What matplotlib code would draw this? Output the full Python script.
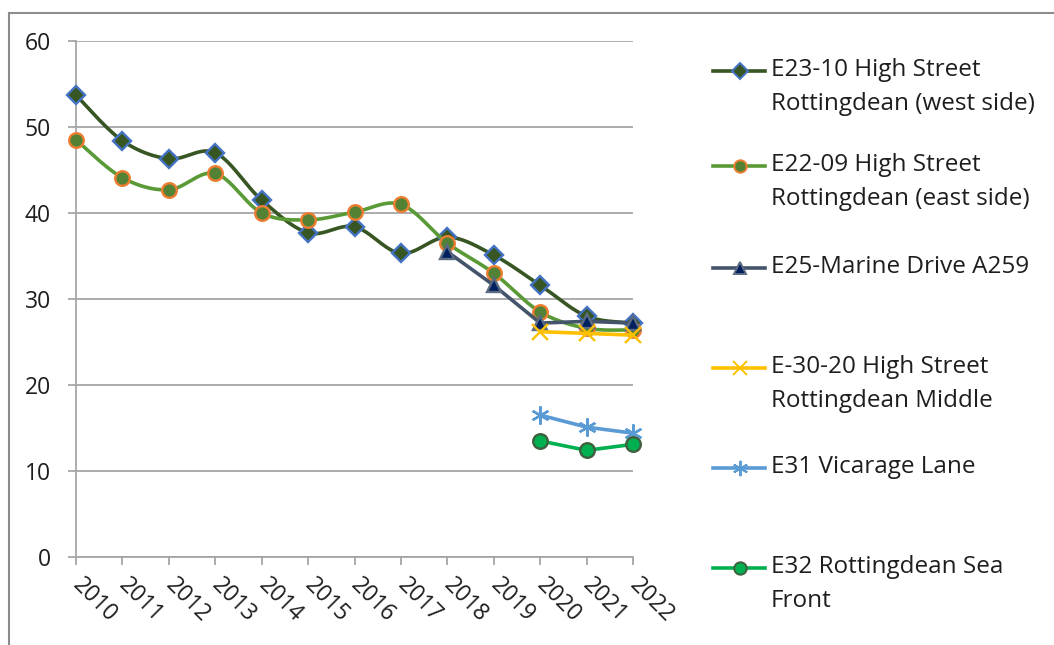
import numpy as np
import matplotlib
matplotlib.use("Agg")
import matplotlib.pyplot as plt
from matplotlib.lines import Line2D

# ---------------------------------------------------------
# Data
# ---------------------------------------------------------
years = list(range(2010, 2023))

e23_years = list(range(2010, 2023))
e23 = [53.7, 48.4, 46.3, 47.0, 41.5, 37.7, 38.4, 35.3, 37.2, 35.1, 31.6, 28.0, 27.2]

e22_years = list(range(2010, 2023))
e22 = [48.5, 44.1, 42.7, 44.6, 40.0, 39.2, 40.1, 41.0, 36.5, 33.0, 28.5, 26.6, 26.4]

e25_years = [2018, 2019, 2020, 2021, 2022]
e25 = [35.5, 31.6, 27.2, 27.4, 27.2]

e30_years = [2020, 2021, 2022]
e30 = [26.2, 26.0, 25.8]

e31_years = [2020, 2021, 2022]
e31 = [16.5, 15.1, 14.4]

e32_years = [2020, 2021, 2022]
e32 = [13.5, 12.4, 13.1]

labels = [
    "E23-10 High Street\nRottingdean (west side)",
    "E22-09 High Street\nRottingdean (east side)",
    "E25-Marine Drive A259",
    "E-30-20 High Street\nRottingdean Middle",
    "E31 Vicarage Lane",
    "E32 Rottingdean Sea\nFront",
]

# ---------------------------------------------------------
# Styles
# ---------------------------------------------------------
W, H = 1054, 645
FONT = "Open Sans"
TXT = "#1E1E1E"
GRID = "#A6A6A6"

styles = [
    dict(color="#375623", marker="D", mfc="#375623", mec="#4472C4", ms=9, smooth=True),
    dict(color="#5A9A36", marker="o", mfc="#548235", mec="#ED7D31", ms=10.5, smooth=True),
    dict(color="#44546A", marker="^", mfc="#002060", mec="#5B6B82", ms=10.5, smooth=False),
    dict(color="#FFC000", marker="x", mfc="#FFC000", mec="#FFC000", ms=12, smooth=False),
    dict(color="#5B9BD5", marker=(6, 2, 0), mfc="#5B9BD5", mec="#5B9BD5", ms=13, smooth=False),
    dict(color="#00B050", marker="o", mfc="#00B050", mec="#3F5F3F", ms=10.5, smooth=False),
]


def smooth_curve(xs, ys, n=24):
    # Bezier smoothing like the spreadsheet "smoothed line" option
    pts = np.column_stack([xs, ys]).astype(float)
    P = np.vstack([pts[0], pts, pts[-1]])
    out = []
    t = np.linspace(0, 1, n)[:, None]
    for i in range(1, len(P) - 2):
        p0, p1, p2, p3 = P[i - 1], P[i], P[i + 1], P[i + 2]
        c1 = p1 + (p2 - p0) / 6
        c2 = p2 - (p3 - p1) / 6
        seg = (1 - t) ** 3 * p1 + 3 * (1 - t) ** 2 * t * c1 + 3 * (1 - t) * t ** 2 * c2 + t ** 3 * p2
        out.append(seg if i == 1 else seg[1:])
    out = np.vstack(out)
    return out[:, 0], out[:, 1]


def fx(px):
    return px / W


def fy(py):
    return 1 - py / H


plt.rcParams["font.family"] = [FONT, "DejaVu Sans"]

fig = plt.figure(figsize=(W / 100, H / 100), dpi=100)
ax = fig.add_axes([fx(76), fy(557), (633 - 76) / W, (557 - 41) / H])

series = [
    (e23_years, e23), (e22_years, e22), (e25_years, e25),
    (e30_years, e30), (e31_years, e31), (e32_years, e32),
]

for z, ((yrs, vals), st) in enumerate(zip(series, styles)):
    xi = [years.index(y) for y in yrs]
    if st["smooth"]:
        sx, sy = smooth_curve(xi, vals)
    else:
        sx, sy = xi, vals
    ax.plot(sx, sy, color=st["color"], lw=2.6, solid_capstyle="round",
            zorder=3 + z, clip_on=False)
    ax.plot(xi, vals, linestyle="none", marker=st["marker"], ms=st["ms"],
            mfc=st["mfc"], mec=st["mec"], mew=1.7, zorder=3 + z, clip_on=False)

ax.set_xlim(0, len(years) - 1)
ax.set_ylim(0, 60)
ax.set_yticks(range(0, 61, 10))
ax.set_xticks(range(len(years)))
ax.set_xticklabels([str(y) for y in years], rotation=-45, rotation_mode="anchor",
                   ha="left", va="center")

ax.yaxis.grid(True, color=GRID, lw=1.3)
ax.set_axisbelow(True)
for s in ["top", "right"]:
    ax.spines[s].set_visible(False)
for s in ["left", "bottom"]:
    ax.spines[s].set_color(GRID)
    ax.spines[s].set_linewidth(1.3)
ax.tick_params(axis="both", colors=GRID, width=1.3, length=6, labelcolor=TXT,
               labelsize=16.5)
ax.tick_params(axis="y", pad=12)
ax.tick_params(axis="x", pad=12)

# ---------------------------------------------------------
# Legend (laid out like the spreadsheet legend)
# ---------------------------------------------------------
handle_y = [71, 166, 268, 368, 468, 568]
for lab, st, hy in zip(labels, styles, handle_y):
    fig.add_artist(Line2D([fx(713), fx(765)], [fy(hy), fy(hy)], color=st["color"],
                          lw=2.6, transform=fig.transFigure))
    fig.add_artist(Line2D([fx(740)], [fy(hy)], marker=st["marker"], ms=st["ms"] * 0.85,
                          mfc=st["mfc"], mec=st["mec"], mew=1.4, linestyle="none",
                          transform=fig.transFigure))
    for k, line in enumerate(lab.split("\n")):
        fig.text(fx(771), fy(hy - 1 + 34 * k), line, fontsize=17.5, color=TXT,
                 ha="left", va="center")

# chart border
fig.add_artist(Line2D([fx(9), fx(9)], [0, fy(13)], color="#8C8C8C", lw=1.5,
                      transform=fig.transFigure))
fig.add_artist(Line2D([fx(9), 1], [fy(13), fy(13)], color="#8C8C8C", lw=1.5,
                      transform=fig.transFigure))

fig.savefig("out.png", dpi=100)
